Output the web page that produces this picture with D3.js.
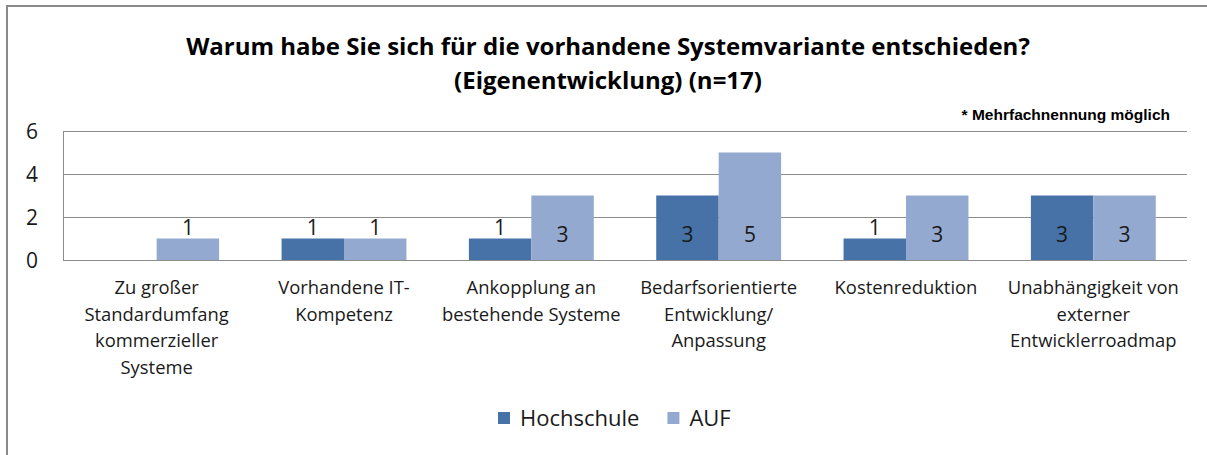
<!DOCTYPE html>
<meta charset="utf-8">
<script src="https://d3js.org/d3.v7.min.js"></script>
<style>
  body { margin: 0; background: #fff; }
  text { font-family: "Open Sans", sans-serif; fill: #1a1a1a; }
  .title { font-weight: bold; font-size: 24px; fill: #000; }
  .note { font-family: "Liberation Sans", Arial, sans-serif; font-weight: bold; font-size: 15.5px; fill: #000; }
  .tick { font-size: 21px; }
  .cat { font-size: 18.4px; }
  .val { font-size: 21px; }
  .leg { font-size: 22px; }
</style>
<body>
<div id="chart"></div>
<script>
// data
var categories = [
  "Zu großer\nStandardumfang\nkommerzieller\nSysteme",
  "Vorhandene IT-\nKompetenz",
  "Ankopplung an\nbestehende Systeme",
  "Bedarfsorientierte\nEntwicklung/\nAnpassung",
  "Kostenreduktion",
  "Unabhängigkeit von\nexterner\nEntwicklerroadmap"
];
var seriesNames = ["Hochschule", "AUF"];
var hochschule = [0, 1, 1, 3, 1, 3];
var auf = [1, 1, 3, 5, 3, 3];
var yTicks = [0, 2, 4, 6];
var titleLines = ["Warum habe Sie sich für die vorhandene Systemvariante entschieden?",
                  "(Eigenentwicklung) (n=17)"];
var noteText = "* Mehrfachnennung möglich";

var colors = {"Hochschule": "#4672a7", "AUF": "#94a9cf"};

var W = 1207, H = 455;
var plot = {left: 63, right: 1187, top: 131, bottom: 260};

var svg = d3.select("#chart").append("svg")
  .attr("width", W)
  .attr("height", H);

// frame (top and left edge of the chart box)
svg.append("line").attr("x1", 6).attr("x2", W).attr("y1", 6).attr("y2", 6)
  .attr("stroke", "#8a8a8a").attr("stroke-width", 2);
svg.append("line").attr("x1", 7).attr("x2", 7).attr("y1", 5).attr("y2", H)
  .attr("stroke", "#8a8a8a").attr("stroke-width", 2);

// title
svg.selectAll(".title").data(titleLines).enter().append("text")
  .attr("class", "title")
  .attr("x", 608)
  .attr("y", function(d, i) { return 55 + i * 34; })
  .attr("text-anchor", "middle")
  .text(function(d) { return d; });

svg.append("text").attr("class", "note")
  .attr("x", 1170).attr("y", 120)
  .attr("text-anchor", "end")
  .text(noteText);

var x0 = d3.scaleBand()
  .domain(categories)
  .range([plot.left, plot.right]);

var x1 = d3.scaleBand()
  .domain(seriesNames)
  .range([0, x0.bandwidth()])
  .paddingInner(0)
  .paddingOuter(0.5);

var y = d3.scaleLinear()
  .domain([0, 6])
  .range([plot.bottom, plot.top]);

// gridlines
svg.append("g").selectAll("line").data(yTicks).enter().append("line")
  .attr("x1", plot.left).attr("x2", plot.right)
  .attr("y1", function(d) { return Math.round(y(d)) + 0.5; })
  .attr("y2", function(d) { return Math.round(y(d)) + 0.5; })
  .attr("stroke", "#8c8c8c").attr("stroke-width", 1);

svg.append("line")
  .attr("x1", plot.left + 0.5).attr("x2", plot.left + 0.5)
  .attr("y1", y(6)).attr("y2", y(0))
  .attr("stroke", "#8c8c8c").attr("stroke-width", 1);

// y tick labels
svg.append("g").selectAll("text").data(yTicks).enter().append("text")
  .attr("class", "tick")
  .attr("x", 32)
  .attr("y", function(d) { return y(d) + 8; })
  .attr("text-anchor", "middle")
  .text(function(d) { return d; });

// bars
var rows = [];
categories.forEach(function(c, i) {
  rows.push({cat: c, series: "Hochschule", value: hochschule[i]});
  rows.push({cat: c, series: "AUF", value: auf[i]});
});

svg.append("g").selectAll("rect").data(rows.filter(function(d) { return d.value > 0; }))
  .enter().append("rect")
  .attr("x", function(d) { return x0(d.cat) + x1(d.series); })
  .attr("y", function(d) { return y(d.value); })
  .attr("width", x1.bandwidth())
  .attr("height", function(d) { return y(0) - y(d.value); })
  .attr("fill", function(d) { return colors[d.series]; });

// value labels: inside near the base when the bar is tall, otherwise above
svg.append("g").selectAll("text").data(rows.filter(function(d) { return d.value > 0; }))
  .enter().append("text")
  .attr("class", "val")
  .attr("x", function(d) { return x0(d.cat) + x1(d.series) + x1.bandwidth() / 2; })
  .attr("y", function(d) {
    var h = y(0) - y(d.value);
    return h > 30 ? y(0) - 18 : y(d.value) - 4;
  })
  .attr("text-anchor", "middle")
  .text(function(d) { return d.value; });

// category labels
var cat = svg.append("g").selectAll("text").data(categories).enter().append("text")
  .attr("class", "cat")
  .attr("text-anchor", "middle")
  .attr("x", function(d) { return x0(d) + x0.bandwidth() / 2; })
  .attr("y", 294);
cat.selectAll("tspan").data(function(d) { return d.split("\n"); }).enter().append("tspan")
  .attr("x", function() { var p = this.parentNode; return p.getAttribute("x"); })
  .attr("dy", function(d, i) { return i === 0 ? 0 : 26.5; })
  .text(function(d) { return d; });

// legend
var lx = 498;
seriesNames.forEach(function(s) {
  svg.append("rect")
    .attr("x", lx).attr("y", 412)
    .attr("width", 12).attr("height", 12)
    .attr("fill", colors[s]);
  var t = svg.append("text")
    .attr("class", "leg")
    .attr("x", lx + 22).attr("y", 426)
    .text(s);
  lx += 22 + t.node().getComputedTextLength() + 28;
});
</script>
</body>
